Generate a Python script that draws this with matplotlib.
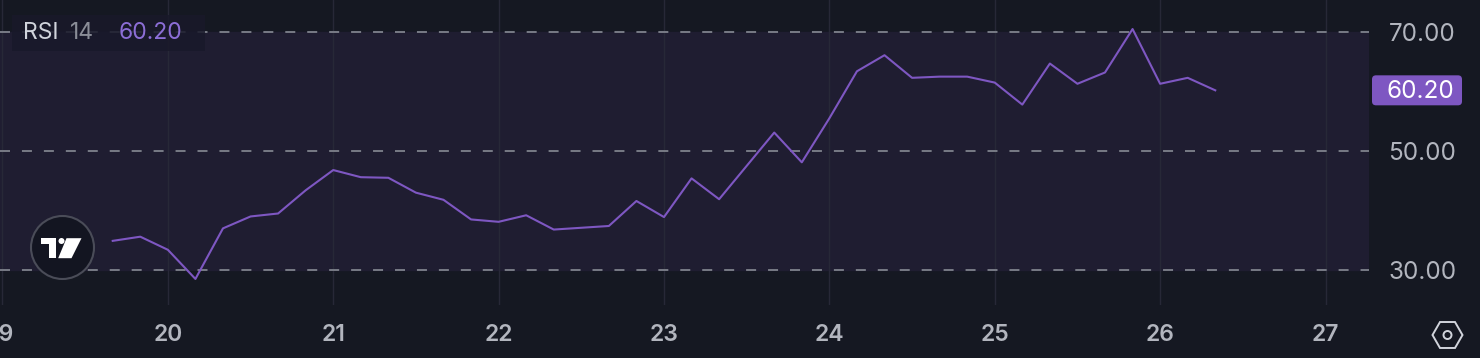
import numpy as np
import pandas as pd
import matplotlib
matplotlib.use("Agg")
import matplotlib.pyplot as plt
import matplotlib.dates as mdates
from matplotlib.patches import Circle, Rectangle, Polygon, RegularPolygon, FancyBboxPatch

# RSI(14) on 4h candles
times = pd.date_range("2024-03-19 16:00", periods=41, freq="4h")
rsi = [34.9, 35.6, 33.4, 28.5, 37.0, 39.0, 39.5, 43.4, 46.8, 45.6,
       45.5, 43.0, 41.8, 38.5, 38.1, 39.2, 36.8, 37.1, 37.4, 41.6,
       38.9, 45.4, 41.9, 47.5, 53.1, 48.1, 55.5, 63.4, 66.1, 62.3,
       62.5, 62.5, 61.5, 57.8, 64.7, 61.3, 63.2, 70.5, 61.3, 62.3, 60.2]
levels = [30, 50, 70]
level_labels = ["30.00", "50.00", "70.00"]
day_ticks = pd.date_range("2024-03-19", "2024-03-27", freq="D")

# colours
bg = "#151822"
band = "#1f1d31"
purple = "#7e57c2"
dash_col = "#787b86"
grid_col = "#272837"
txt = "#b2b5be"

plt.rcParams["font.family"] = ["Inter", "DejaVu Sans"]
plt.rcParams["lines.scale_dashes"] = False

W, H = 1480, 358
fig = plt.figure(figsize=(W / 100, H / 100), dpi=100, facecolor=bg)

# main pane: x 0..1369 px, y 0..305 px (from top)
ax = fig.add_axes([0, (H - 305) / H, 1369 / W, 305 / H])
ax.set_facecolor(bg)
x0 = mdates.date2num(pd.Timestamp("2024-03-19"))
ax.set_xlim(x0 - 0.015, x0 + 8.263)
ax.set_ylim(24.12, 75.38)

ax.axhspan(30, 70, color=band, zorder=0)
for d in day_ticks:
    ax.axvline(d, color=grid_col, lw=1.0, zorder=1)
for lv in levels:
    ax.axhline(lv, color=dash_col, lw=1.4, dashes=(7.2, 8.6), zorder=2)

ax.plot(times, rsi, color=purple, lw=1.5, zorder=3, solid_joinstyle="round")

for s in ax.spines.values():
    s.set_visible(False)

ax.set_xticks(day_ticks)
ax.xaxis.set_major_formatter(mdates.DateFormatter("%d"))
ax.tick_params(axis="x", length=0, pad=14, labelsize=16.5, labelcolor=txt)
for lab in ax.get_xticklabels():
    lab.set_fontweight("semibold")

ax.yaxis.tick_right()
ax.set_yticks(levels)
ax.set_yticklabels(level_labels)
ax.tick_params(axis="y", length=0, pad=14, labelsize=17.5, labelcolor=txt)

# overlay in pixel coordinates for the decorations
ov = fig.add_axes([0, 0, 1, 1], facecolor="none")
ov.set_xlim(0, W)
ov.set_ylim(H, 0)
ov.axis("off")

# legend
ov.add_patch(Rectangle((12, 15), 193, 36, facecolor="#19192a", alpha=0.85, lw=0))
ov.text(23, 33, "RSI", color="#d1d4dc", fontsize=16.5, va="center", ha="left")
ov.text(70, 33, "14", color="#8a8d97", fontsize=16.5, va="center", ha="left")
ov.text(119, 33, "60.20", color="#8c6ed6", fontsize=16.5, va="center", ha="left")

# last value badge, placed at the last rsi value
_, yd = ax.transData.transform((mdates.date2num(times[-1]), rsi[-1]))
yb = H - yd
ov.add_patch(FancyBboxPatch((1372, yb - 15), 90, 30, boxstyle="round,pad=0,rounding_size=4",
                            facecolor=purple, lw=0))
ov.text(1387, yb + 1, "%.2f" % rsi[-1], color="white", fontsize=17.5, va="center", ha="left")

# tradingview logo
cx, cy = 62.5, 247.5
ov.add_patch(Circle((cx, cy), 31.5, facecolor="#131521", edgecolor="#4a4c58", lw=1.5))
ov.add_patch(Rectangle((cx - 22, cy - 9.3), 15.3, 5.6, facecolor="white", lw=0))
ov.add_patch(Rectangle((cx - 13.3, cy - 9.3), 6.6, 20, facecolor="white", lw=0))
ov.add_patch(Circle((cx - 1, cy - 6.5), 3.0, facecolor="white", lw=0))
ov.add_patch(Polygon([(cx + 4, cy - 9.3), (cx + 19, cy - 9.3), (cx + 9, cy + 10.7),
                      (cx - 4.3, cy + 10.7)], facecolor="white", lw=0))

# settings icon
ov.add_patch(RegularPolygon((1447.5, 335), 6, radius=15, orientation=np.pi / 6,
                            facecolor="none", edgecolor="#d1d4dc", lw=1.4))
ov.add_patch(Circle((1447.5, 335), 4, facecolor="none", edgecolor="#d1d4dc", lw=1.4))

fig.savefig("out.png", dpi=100, facecolor=bg)
